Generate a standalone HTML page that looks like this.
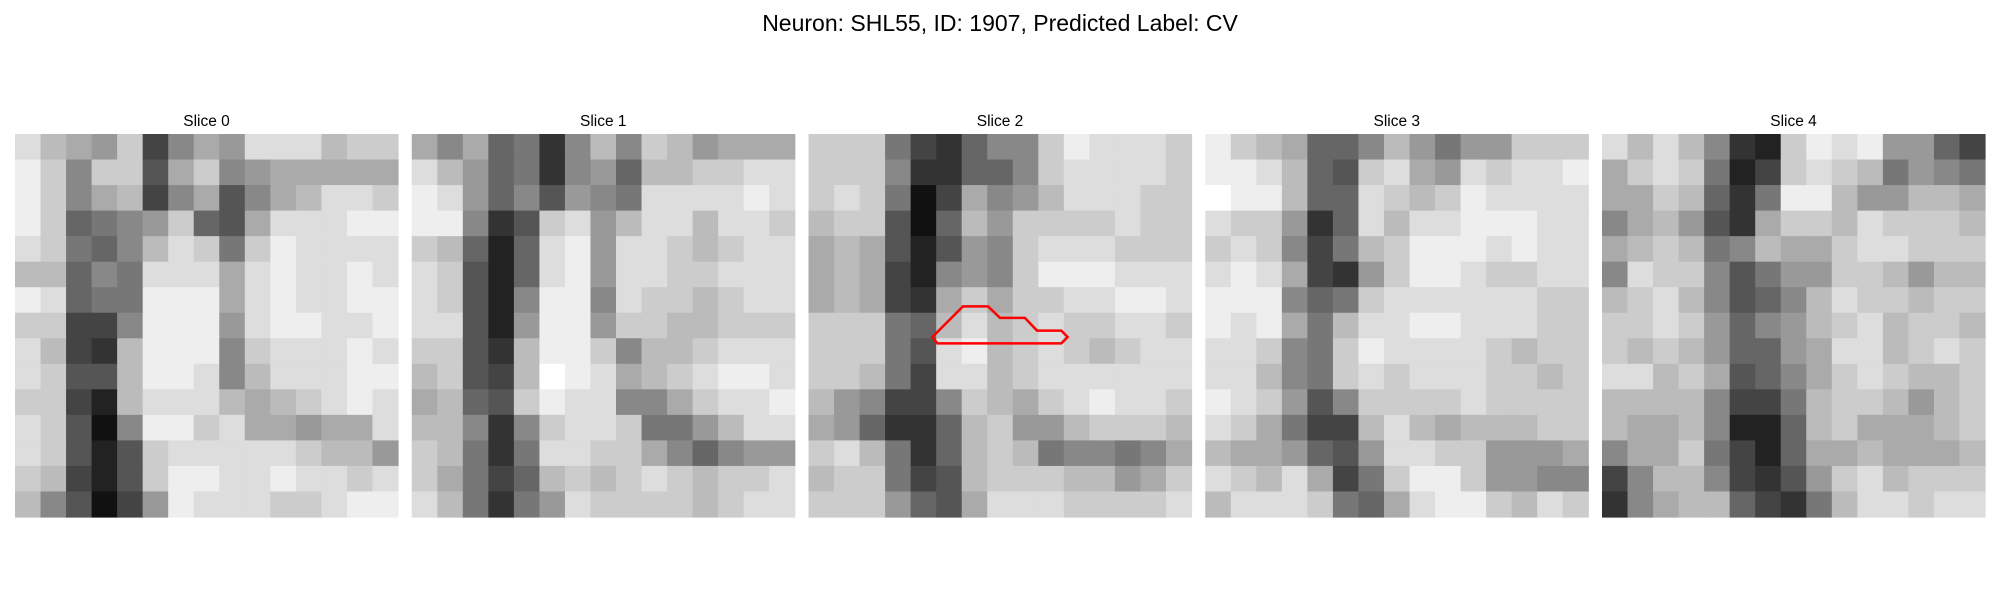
<!DOCTYPE html>
<html><head><meta charset="utf-8">
<style>
html,body{margin:0;padding:0;background:#fff;}
svg{display:block;font-family:"Liberation Sans",sans-serif;}
</style></head>
<body>
<svg id="fig" width="2000" height="600" viewBox="0 0 2000 600" xmlns="http://www.w3.org/2000/svg">
<rect width="2000" height="600" fill="#fff"/>
<text x="1000" y="31" text-anchor="middle" font-size="23" fill="#000">Neuron: SHL55, ID: 1907, Predicted Label: CV</text>
<g id="panels"></g>
</svg>
<script>
// grayscale intensities (hex 0-f, 0=black) on a 15x15 downsampled grid per slice
const sliceLabels = ["Slice 0","Slice 1","Slice 2","Slice 3","Slice 4"];
const slice0 = ["dba9c48a9dddbcc","ec8cc5ac89aaaaa","ec8ab48a58abddc","ec6789c65adddee","dc768bdc7cedddd","bb687dddadedded","ed677eeeadeddee","cc448eee9deedde","db43beee8cddded","dc55beed8bdddee","cc42bdddbabcded","dc518eecdaa9aad","dc525cdddddcbb9","cb425ceeddeddcd","b85149edddccdee"];
const slice1 = ["a8a6738b8cb9aaa","db9673896bbccdd","ed9685987dddded","ee835cd9bddbddc","cb626de9ddcbcdd","dc526de9ddccddd","dc528ee8dccbcdd","dd529ee9ccbbccc","cc53beec8bbcddd","bc54bfedabcdeed","ab65cedd88acdde","bb838cddc779bdd","cb737ddcca86899","ca746bcbcdcbccd","db7379dccccbcdd"];
const slice2 = ["ccc743688cedddc","ccc833668cddddc","cdc714a89bdddcc","bcc516b9ccccdcc","aba52598cdddccc","aba42898ceeeddd","aba43acaccddeed","ccc76bdbcdccddc","ccc75debcdcbcdd","ccb74ddbcdddddd","b98448cbacdeddc","a96336bc99bcccb","cdb736bcb78878a","bcc745bcccbb9ac","ccc965adddccccd"];
const slice3 = ["ecba668b9799ccc","eedb65cda9dcdde","feeb66dcbcedddd","dcc936dbddeeedd","cdc847bceeededd","deda439ceedccdd","eee867cddddddcc","edea7bddeedddcc","ddc87ceddddcbcc","ddb87cdcdddccbc","edc958ccccdcccc","dca744bdbabbbcc","baa9659ddcc999a","dcbda47ceec9988","bdddc76adeecbdc"];
const slice4 = ["dbdb832cede9964","acdc724cdcb7987","aacb637eeb99bba","8ab953accbdcccb","abcb78baacddccc","8dcc85799ccb9bb","bcdb8568bdccbcc","ccdc9689bcdbccb","cbcb9669addbcdc","ddbca568acdcbbc","bbbb8447bccb9bc","baab8226bcaaabc","8aac7426aabaaab","48bb84359cdbccc","38abb6437bddcdd"];
const slices = [slice0,slice1,slice2,slice3,slice4];
// ROI contour on slice 2, in data units of the 30x30 original grid
const roiX = [9.7,12.1,14.06,15.0,16.95,17.9,19.8,20.3,19.8,10.1];
const roiY = [15.9,13.5,13.5,14.4,14.4,15.4,15.4,15.9,16.4,16.4];
const roiSlice = 2;

const NS="http://www.w3.org/2000/svg";
const panelsG=document.getElementById('panels');
const P0=15, STEP=396.75, PY=134, PS=383;
function px(i,u,n){return P0+i*STEP+u*PS/n;}
function py(u,n){return PY+u*PS/n;}
slices.forEach((grid,i)=>{
  const g=document.createElementNS(NS,'g');
  
  
  const n=grid.length;
  grid.forEach((row,r)=>{
    for(let c=0;c<row.length;c++){
      const v=parseInt(row[c],16)*17;
      const rect=document.createElementNS(NS,'rect');
      
      
      const x0=px(i,c,row.length), x1=px(i,c+1,row.length);
      const y0=py(r,n), y1=py(r+1,n);
      rect.setAttribute('x',x0);rect.setAttribute('y',y0);
      rect.setAttribute('width',x1-x0+0.6);rect.setAttribute('height',y1-y0+0.6);
      rect.setAttribute('fill',`rgb(${v},${v},${v})`);
      g.appendChild(rect);
    }
  });
  const t=document.createElementNS(NS,'text');
  
  
  t.setAttribute('x',px(i,0.5,1));t.setAttribute('y',126);
  t.setAttribute('text-anchor','middle');t.setAttribute('font-size','15.5');
  t.textContent=sliceLabels[i];
  g.appendChild(t);
  panelsG.appendChild(g);
});
const pts=roiX.map((x,k)=>px(roiSlice,x,30)+','+py(roiY[k],30)).join(' ');
const poly=document.createElementNS(NS,'polygon');


poly.setAttribute('points',pts);
poly.setAttribute('fill','none');poly.setAttribute('stroke','#ff0000');poly.setAttribute('stroke-width','2.5');
panelsG.appendChild(poly);
</script>
</body></html>
